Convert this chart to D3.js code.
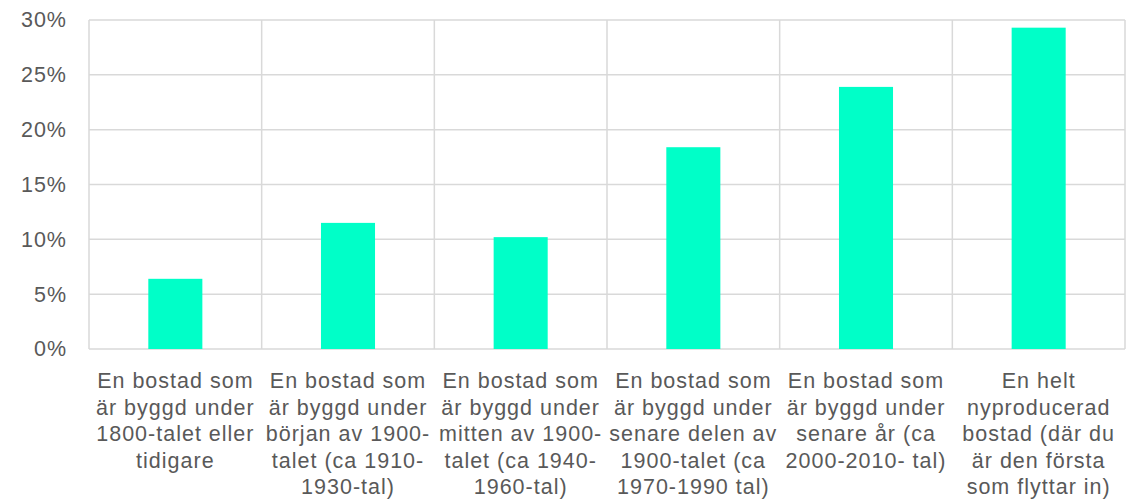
<!DOCTYPE html>
<html>
<head>
<meta charset="utf-8">
<script src="https://cdn.jsdelivr.net/npm/d3@7"></script>
<style>
  html, body { margin: 0; padding: 0; background: #ffffff; }
  svg { display: block; }
  text { font-family: "Liberation Sans", Arial, sans-serif; fill: #595959; }
</style>
</head>
<body>
<svg id="chart" width="1133" height="501"></svg>
<script>
// Category labels, one entry per line of the wrapped label
const categories = [
  ["En bostad som", "är byggd under", "1800-talet eller", "tidigare"],
  ["En bostad som", "är byggd under", "början av 1900-", "talet (ca 1910-", "1930-tal)"],
  ["En bostad som", "är byggd under", "mitten av 1900-", "talet (ca 1940-", "1960-tal)"],
  ["En bostad som", "är byggd under", "senare delen av", "1900-talet (ca", "1970-1990 tal)"],
  ["En bostad som", "är byggd under", "senare år (ca", "2000-2010- tal)"],
  ["En helt", "nyproducerad", "bostad (där du", "är den första", "som flyttar in)"]
];

// Share of respondents per housing age category (percent)
const values = [6.4, 11.5, 10.2, 18.4, 23.9, 29.3];

// Y axis ticks (percent)
const yTicks = [0, 5, 10, 15, 20, 25, 30];

const margin = { top: 20, right: 8, bottom: 152, left: 89 };
const width = 1133, height = 501;
const innerW = width - margin.left - margin.right;
const innerH = height - margin.top - margin.bottom;

const svg = d3.select("#chart");
const g = svg.append("g").attr("transform", `translate(${margin.left},${margin.top})`);

const idx = d3.range(categories.length);

const x = d3.scaleBand()
  .domain(idx)
  .range([0, innerW])
  .paddingInner(0)
  .paddingOuter(0);

const y = d3.scaleLinear()
  .domain([0, 30])
  .range([innerH, 0]);

const gridColor = "#d9d9d9";

// Horizontal gridlines
g.append("g")
  .selectAll("line")
  .data(yTicks)
  .join("line")
  .attr("x1", 0)
  .attr("x2", innerW)
  .attr("y1", d => y(d))
  .attr("y2", d => y(d))
  .attr("stroke", gridColor)
  .attr("stroke-width", 1.5);

// Vertical gridlines at category boundaries
const bounds = idx.map(i => x(i)).concat([innerW]);
g.append("g")
  .selectAll("line")
  .data(bounds)
  .join("line")
  .attr("x1", d => d)
  .attr("x2", d => d)
  .attr("y1", 0)
  .attr("y2", innerH)
  .attr("stroke", gridColor)
  .attr("stroke-width", 1.5);

// Bars
const barFrac = 0.313;
g.append("g")
  .selectAll("rect")
  .data(values)
  .join("rect")
  .attr("x", (d, i) => x(i) + x.bandwidth() * (1 - barFrac) / 2)
  .attr("width", x.bandwidth() * barFrac)
  .attr("y", d => y(d))
  .attr("height", d => innerH - y(d))
  .attr("fill", "#00ffc8");

// Y axis labels
const yAxis = d3.axisLeft(y)
  .tickValues(yTicks)
  .tickFormat(d => d + "%")
  .tickSize(0)
  .tickPadding(22);

const yg = g.append("g").call(yAxis);
yg.select(".domain").remove();
yg.selectAll("text")
  .attr("font-size", "21.5px")
  .attr("letter-spacing", "1px")
  .style("font-family", null)
  .attr("fill", "#595959");

// X axis with multi-line labels
const xAxis = d3.axisBottom(x)
  .tickSize(0)
  .tickFormat(() => "");

const xg = g.append("g")
  .attr("transform", `translate(0,${innerH})`)
  .call(xAxis);
xg.select(".domain").remove();

xg.selectAll(".tick").each(function(i) {
  const t = d3.select(this).select("text")
    .attr("font-size", "21.5px")
    .attr("letter-spacing", "1px")
    .attr("text-anchor", "middle")
    .attr("fill", "#595959")
    .attr("y", 0)
    .attr("dy", null);
  t.text(null);
  categories[i].forEach((line, k) => {
    t.append("tspan")
      .attr("x", 0)
      .attr("y", 39 + k * 26.6)
      .text(line);
  });
});
</script>
</body>
</html>
